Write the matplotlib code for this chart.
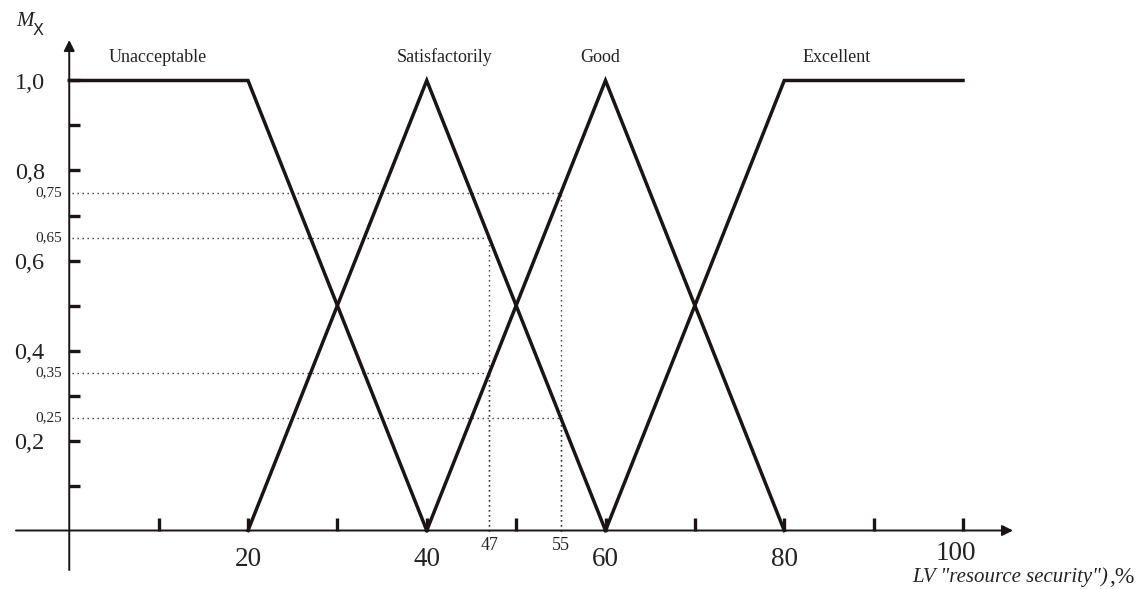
import numpy as np
import matplotlib
matplotlib.use("Agg")
import matplotlib.pyplot as plt

# membership functions of the linguistic variable
terms = ["Unacceptable", "Satisfactorily", "Good", "Excellent"]
term_x = [[0, 20, 40], [20, 40, 60], [40, 60, 80], [60, 80, 100]]
term_mu = [[1, 1, 0], [0, 1, 0], [0, 1, 0], [0, 1, 1]]

x_ticks = [10, 20, 30, 40, 50, 60, 70, 80, 90, 100]
x_labels = ["20", "40", "60", "80", "100"]
y_ticks = [0.1, 0.2, 0.3, 0.4, 0.5, 0.6, 0.7, 0.8, 0.9, 1.0]
y_labels = ["0,2", "0,4", "0,6", "0,8", "1,0"]

# read-off points: (x, mu) pairs shown with dotted guides
probe_x = [55, 47, 47, 55]
probe_mu = [0.75, 0.65, 0.35, 0.25]
probe_mu_labels = ["0,75", "0,65", "0,35", "0,25"]
probe_x_labels = ["47", "55"]

plt.rcParams["font.family"] = ["Liberation Serif", "DejaVu Serif"]
ink = "#1a1414"
txt = "#222222"

fig = plt.figure(figsize=(11.41, 5.89), dpi=100)
ax = fig.add_axes([0, 0, 1, 1])
px_per_x = 8.9375
px_per_y = 450.0
x0_px, y0_px = 69.25, 530.5
ax.set_xlim(-x0_px / px_per_x, (1141 - x0_px) / px_per_x)
ax.set_ylim((y0_px - 589) / px_per_y, y0_px / px_per_y)
ax.axis("off")


def px(x, y):
    """pixel position (from top-left) -> data coords"""
    return (x - x0_px) / px_per_x, (y0_px - y) / px_per_y


# axes with arrows
arr = dict(arrowstyle="-|>", lw=1.4, color=ink, mutation_scale=16,
           shrinkA=0, shrinkB=0)
ax.annotate("", xy=px(1013, y0_px), xytext=px(16, y0_px), arrowprops=arr)
ax.annotate("", xy=px(x0_px, 40), xytext=px(x0_px, 570), arrowprops=arr)

# ticks
for t in x_ticks:
    ax.plot([t, t], [0, 0.027], color=ink, lw=2.4, solid_capstyle="butt")
for t in y_ticks:
    ax.plot([0, 1.25], [t, t], color=ink, lw=2.4, solid_capstyle="butt")

# dotted guides
for xv, mv in zip(probe_x, probe_mu):
    ax.plot([0.3, xv], [mv, mv], color="#333333", lw=1.0, ls=(0, (1, 2.6)))
    ax.plot([xv, xv], [0, mv], color="#333333", lw=1.0, ls=(0, (1, 2.6)))

# membership functions
for xs, ms in zip(term_x, term_mu):
    ax.plot(xs, ms, color=ink, lw=2.5, solid_joinstyle="miter")

# term labels
term_label_px = [158, 445, 600, 837]
for name, lx in zip(terms, term_label_px):
    ax.text(*px(lx, 62), name, ha="center", va="baseline", fontsize=13,
            color=txt)

# y labels
for lab, v in zip(y_labels, [0.2, 0.4, 0.6, 0.8, 1.0]):
    ax.text(-2.75, v - 0.006, lab, ha="right", va="center", fontsize=17.5,
            color=txt)
for lab, v in zip(probe_mu_labels, probe_mu):
    ax.text(-0.85, v, lab, ha="right", va="center", fontsize=11, color=txt)

# x labels
for lab, v in zip(x_labels, [20, 40, 60, 80, 100]):
    if v == 100:
        ax.text(*px(956, 554), lab, ha="center", va="center",
                fontsize=19.5, color=txt)
    else:
        ax.text(v, (y0_px - 559) / px_per_y, lab, ha="center", va="center",
                fontsize=19.5, color=txt)
for lab in probe_x_labels:
    ax.text(float(lab), (y0_px - 546) / px_per_y, lab, ha="center",
            va="center", fontsize=13, color=txt)

# axis titles
pct = ax.text(*px(1134, 583), ",%", ha="right", va="baseline",
              fontsize=17, color=txt)
ax.annotate('LV "resource security")', xy=(0, 0), xycoords=pct,
            ha="right", va="bottom", fontsize=15, style="italic", color=txt,
            xytext=(0, 0.5), textcoords="offset points")
ax.text(*px(16, 26), "M", ha="left", va="baseline", fontsize=15,
        style="italic", color=txt)
ax.text(*px(33, 35), "X", ha="left", va="baseline", fontsize=11.5,
        family="DejaVu Sans", color=txt)

fig.savefig("out.png", dpi=100)
